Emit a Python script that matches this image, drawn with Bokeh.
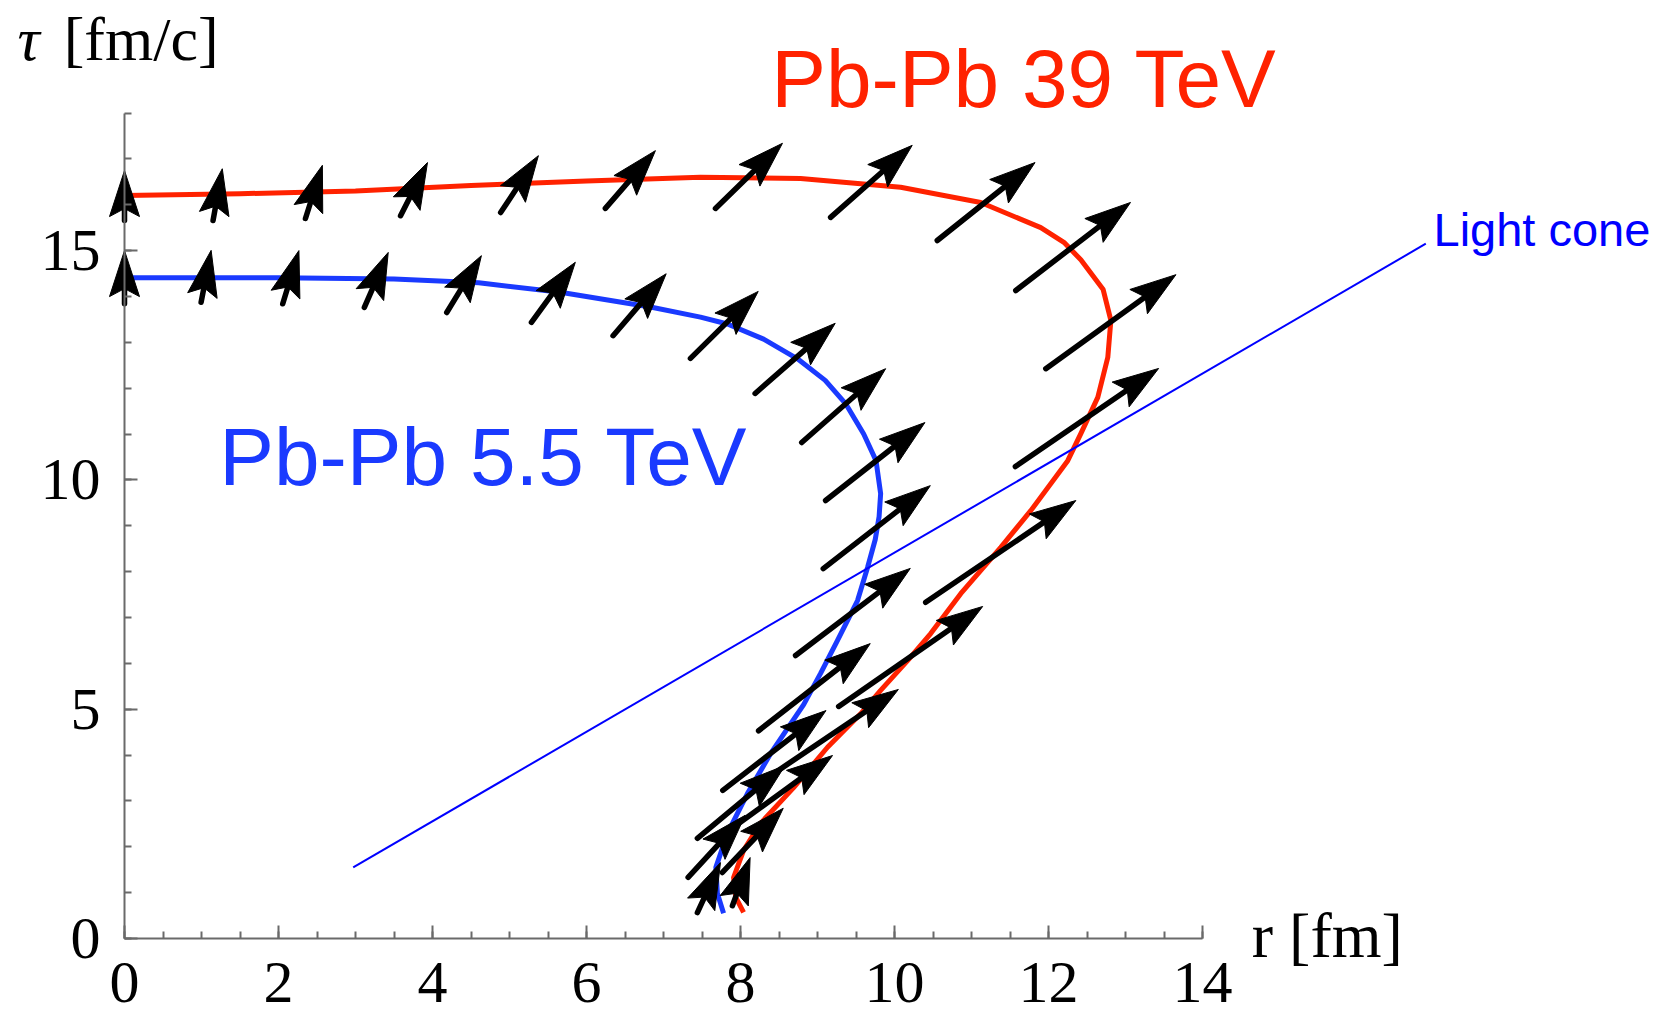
import math

from bokeh.embed import file_html
from bokeh.models import Label, Range1d, SingleIntervalTicker
from bokeh.plotting import figure
from bokeh.resources import INLINE

# ---- freeze-out curves (r in fm, tau in fm/c) ----
blue_r = [0.0, 2.0, 3.5, 4.6, 5.66, 6.83, 7.48, 7.83, 8.3, 8.74, 9.1, 9.37, 9.6,
          9.76, 9.82, 9.80, 9.75, 9.65, 9.52, 9.26, 9.04, 8.82, 8.39, 8.09, 7.83,
          7.68, 7.70, 7.78]
blue_tau = [14.41, 14.41, 14.38, 14.30, 14.09, 13.77, 13.55, 13.40, 13.07, 12.64, 12.17,
            11.65, 11.0, 10.42, 9.70, 9.2, 8.7, 8.09, 7.37, 6.5, 5.78, 5.1, 4.03, 3.16,
            2.29, 1.55, 0.98, 0.55]

red_r = [0.0, 1.5, 3.0, 4.5, 6.0, 7.48, 8.78, 10.08, 11.12, 11.9, 12.2, 12.42, 12.71,
         12.81, 12.77, 12.64, 12.42, 12.25, 11.77, 11.38, 10.86, 10.47, 10.17, 9.82,
         9.56, 9.13, 8.69, 8.26, 8.04, 7.91, 7.94, 8.04]
red_tau = [16.2, 16.24, 16.3, 16.42, 16.52, 16.6, 16.57, 16.38, 16.05, 15.5, 15.18,
           14.8, 14.15, 13.48, 12.67, 11.8, 11.01, 10.42, 9.33, 8.53, 7.52, 6.65, 6.06,
           5.41, 4.9, 4.17, 3.29, 2.51, 1.92, 1.33, 0.89, 0.57]

# ---- flow-velocity arrows: centre on the curve and vector (dr, dtau) ----
red_arrow_r = [0.0, 1.21, 2.46, 3.76, 5.13, 6.57, 8.11, 9.70, 11.19, 12.32, 12.81,
               12.50, 11.38, 10.21, 9.22, 8.52, 8.16, 8.01]
red_arrow_tau = [16.2, 16.22, 16.28, 16.34, 16.45, 16.55, 16.63, 16.51, 16.07, 15.09,
                 13.45, 11.36, 8.44, 6.15, 4.49, 3.17, 2.14, 1.24]
red_arrow_dr = [0.0, 0.12, 0.22, 0.35, 0.49, 0.65, 0.87, 1.06, 1.27, 1.49, 1.69, 1.86,
                1.95, 1.87, 1.66, 1.35, 0.79, 0.23]
red_arrow_dtau = [1.09, 1.13, 1.16, 1.16, 1.24, 1.26, 1.42, 1.57, 1.70, 1.92, 2.05,
                  2.14, 2.22, 2.18, 1.88, 1.64, 1.40, 1.05]

blue_arrow_r = [0.0, 1.06, 2.16, 3.27, 4.41, 5.57, 6.69, 7.79, 8.71, 9.34, 9.75, 9.77,
                9.46, 8.96, 8.44, 8.01, 7.69, 7.59]
blue_arrow_tau = [14.42, 14.44, 14.42, 14.36, 14.27, 14.09, 13.82, 13.38, 12.65, 11.62,
                  10.40, 8.97, 7.12, 5.48, 4.10, 2.98, 2.01, 1.11]
blue_arrow_dr = [0.0, 0.13, 0.21, 0.31, 0.45, 0.57, 0.69, 0.88, 1.04, 1.09, 1.29, 1.39,
                 1.49, 1.45, 1.34, 1.14, 0.74, 0.30]
blue_arrow_dtau = [1.16, 1.13, 1.16, 1.20, 1.24, 1.31, 1.35, 1.46, 1.53, 1.61, 1.70,
                   1.81, 1.90, 1.90, 1.74, 1.59, 1.35, 1.09]

# ---- light cone ----
light_cone_r = [2.97, 16.9]
light_cone_tau = [1.55, 15.15]

x_ticks_step = 2
y_ticks_step = 5

RED = "#ff2200"
BLUE = "#1a3aff"
AXIS_GREY = "#6a6a6a"

# canvas geometry: the data origin sits 124 px from the left and 84 px from the bottom
W, H = 1662, 1022
XS, YS = 77.0, 45.86          # px per fm, px per fm/c
ORIGIN_X, ORIGIN_Y = 124, 84
X0, X1 = -ORIGIN_X / XS, (W - ORIGIN_X) / XS
Y0, Y1 = -ORIGIN_Y / YS, (H - ORIGIN_Y) / YS

p = figure(
    width=W, height=H,
    x_range=Range1d(X0, X1), y_range=Range1d(Y0, Y1),
    output_backend="svg", toolbar_location=None,
    min_border_left=0, min_border_right=0, min_border_top=0, min_border_bottom=0,
)
p.outline_line_color = None
p.xgrid.visible = False
p.ygrid.visible = False
p.background_fill_color = "white"
p.border_fill_color = "white"

p.xaxis.ticker = SingleIntervalTicker(interval=x_ticks_step, num_minor_ticks=4)
p.yaxis.ticker = SingleIntervalTicker(interval=y_ticks_step, num_minor_ticks=5)
p.xaxis.bounds = (0, 14)
p.yaxis.bounds = (0, 18)
p.xaxis.fixed_location = 0
p.yaxis.fixed_location = 0
for ax in (p.xaxis, p.yaxis):
    ax.axis_line_color = AXIS_GREY
    ax.axis_line_width = 2
    ax.major_tick_line_color = AXIS_GREY
    ax.minor_tick_line_color = AXIS_GREY
    ax.major_tick_line_width = 2
    ax.minor_tick_line_width = 2
    ax.major_tick_in = 13
    ax.major_tick_out = 0
    ax.minor_tick_in = 7
    ax.minor_tick_out = 0
    ax.major_label_text_font = "Liberation Serif"
    ax.major_label_text_font_size = "60px"
    ax.major_label_text_color = "black"
p.xaxis.major_label_standoff = 24
p.yaxis.major_label_standoff = 24

# curves
p.line(red_r, red_tau, line_color=RED, line_width=5, line_join="round")
p.line(blue_r, blue_tau, line_color=BLUE, line_width=5, line_join="round")

# light cone
p.line(light_cone_r, light_cone_tau, line_color="#0000ff", line_width=2)

# arrows: shaft segments plus notched heads with a fixed on-screen size
HEAD_LEN, HEAD_W, HEAD_NOTCH = 46.0, 30.0, 38.0


def build_arrows(cr, ct, dr, dt):
    x0s, y0s, x1s, y1s, hx, hy = [], [], [], [], [], []
    for r, t, a, b in zip(cr, ct, dr, dt):
        vx, vy = a * XS, b * YS
        length = math.hypot(vx, vy)
        ux, uy = vx / length, vy / length
        nx, ny = -uy, ux
        tip_r, tip_t = r + 0.5 * a, t + 0.5 * b
        tail_r, tail_t = r - 0.5 * a, t - 0.5 * b
        x0s.append(tail_r)
        y0s.append(tail_t)
        x1s.append(tip_r - HEAD_NOTCH * ux / XS)
        y1s.append(tip_t - HEAD_NOTCH * uy / YS)
        pts = [
            (0.0, 0.0),
            (-HEAD_LEN * ux + 0.5 * HEAD_W * nx, -HEAD_LEN * uy + 0.5 * HEAD_W * ny),
            (-HEAD_NOTCH * ux, -HEAD_NOTCH * uy),
            (-HEAD_LEN * ux - 0.5 * HEAD_W * nx, -HEAD_LEN * uy - 0.5 * HEAD_W * ny),
        ]
        hx.append([tip_r + px / XS for px, _ in pts])
        hy.append([tip_t + py / YS for _, py in pts])
    return x0s, y0s, x1s, y1s, hx, hy


for cr, ct, dr, dt in ((red_arrow_r, red_arrow_tau, red_arrow_dr, red_arrow_dtau),
                       (blue_arrow_r, blue_arrow_tau, blue_arrow_dr, blue_arrow_dtau)):
    x0s, y0s, x1s, y1s, hx, hy = build_arrows(cr, ct, dr, dt)
    p.segment(x0=x0s, y0=y0s, x1=x1s, y1=y1s, line_color="black", line_width=5.5,
              line_cap="round")
    p.patches(hx, hy, fill_color="black", line_color="black", line_width=1)

# texts
p.add_layout(Label(x=8.40, y=18.75, text="Pb-Pb 39 TeV", text_font="Liberation Sans",
                   text_font_size="82px", text_color=RED, text_baseline="alphabetic"))
p.add_layout(Label(x=1.23, y=10.52, text="Pb-Pb 5.5 TeV", text_font="Liberation Sans",
                   text_font_size="82px", text_color=BLUE, text_baseline="alphabetic"))
p.add_layout(Label(x=17.0, y=15.47, text="Light cone", text_font="Liberation Sans",
                   text_font_size="47px", text_color="#0000ff", text_baseline="alphabetic"))

# axis titles
p.add_layout(Label(x=-1.39, y=19.62, text="τ", text_font="Liberation Serif",
                   text_font_style="italic", text_font_size="62px", text_color="black",
                   text_baseline="alphabetic"))
p.add_layout(Label(x=-0.79, y=19.62, text="[fm/c]", text_font="Liberation Serif",
                   text_font_size="62px", text_color="black", text_baseline="alphabetic"))
p.add_layout(Label(x=14.64, y=0.06, text="r [fm]", text_font="Liberation Serif",
                   text_font_size="64px", text_color="black", text_baseline="alphabetic"))

open("out.html", "w").write(file_html(p, INLINE))
